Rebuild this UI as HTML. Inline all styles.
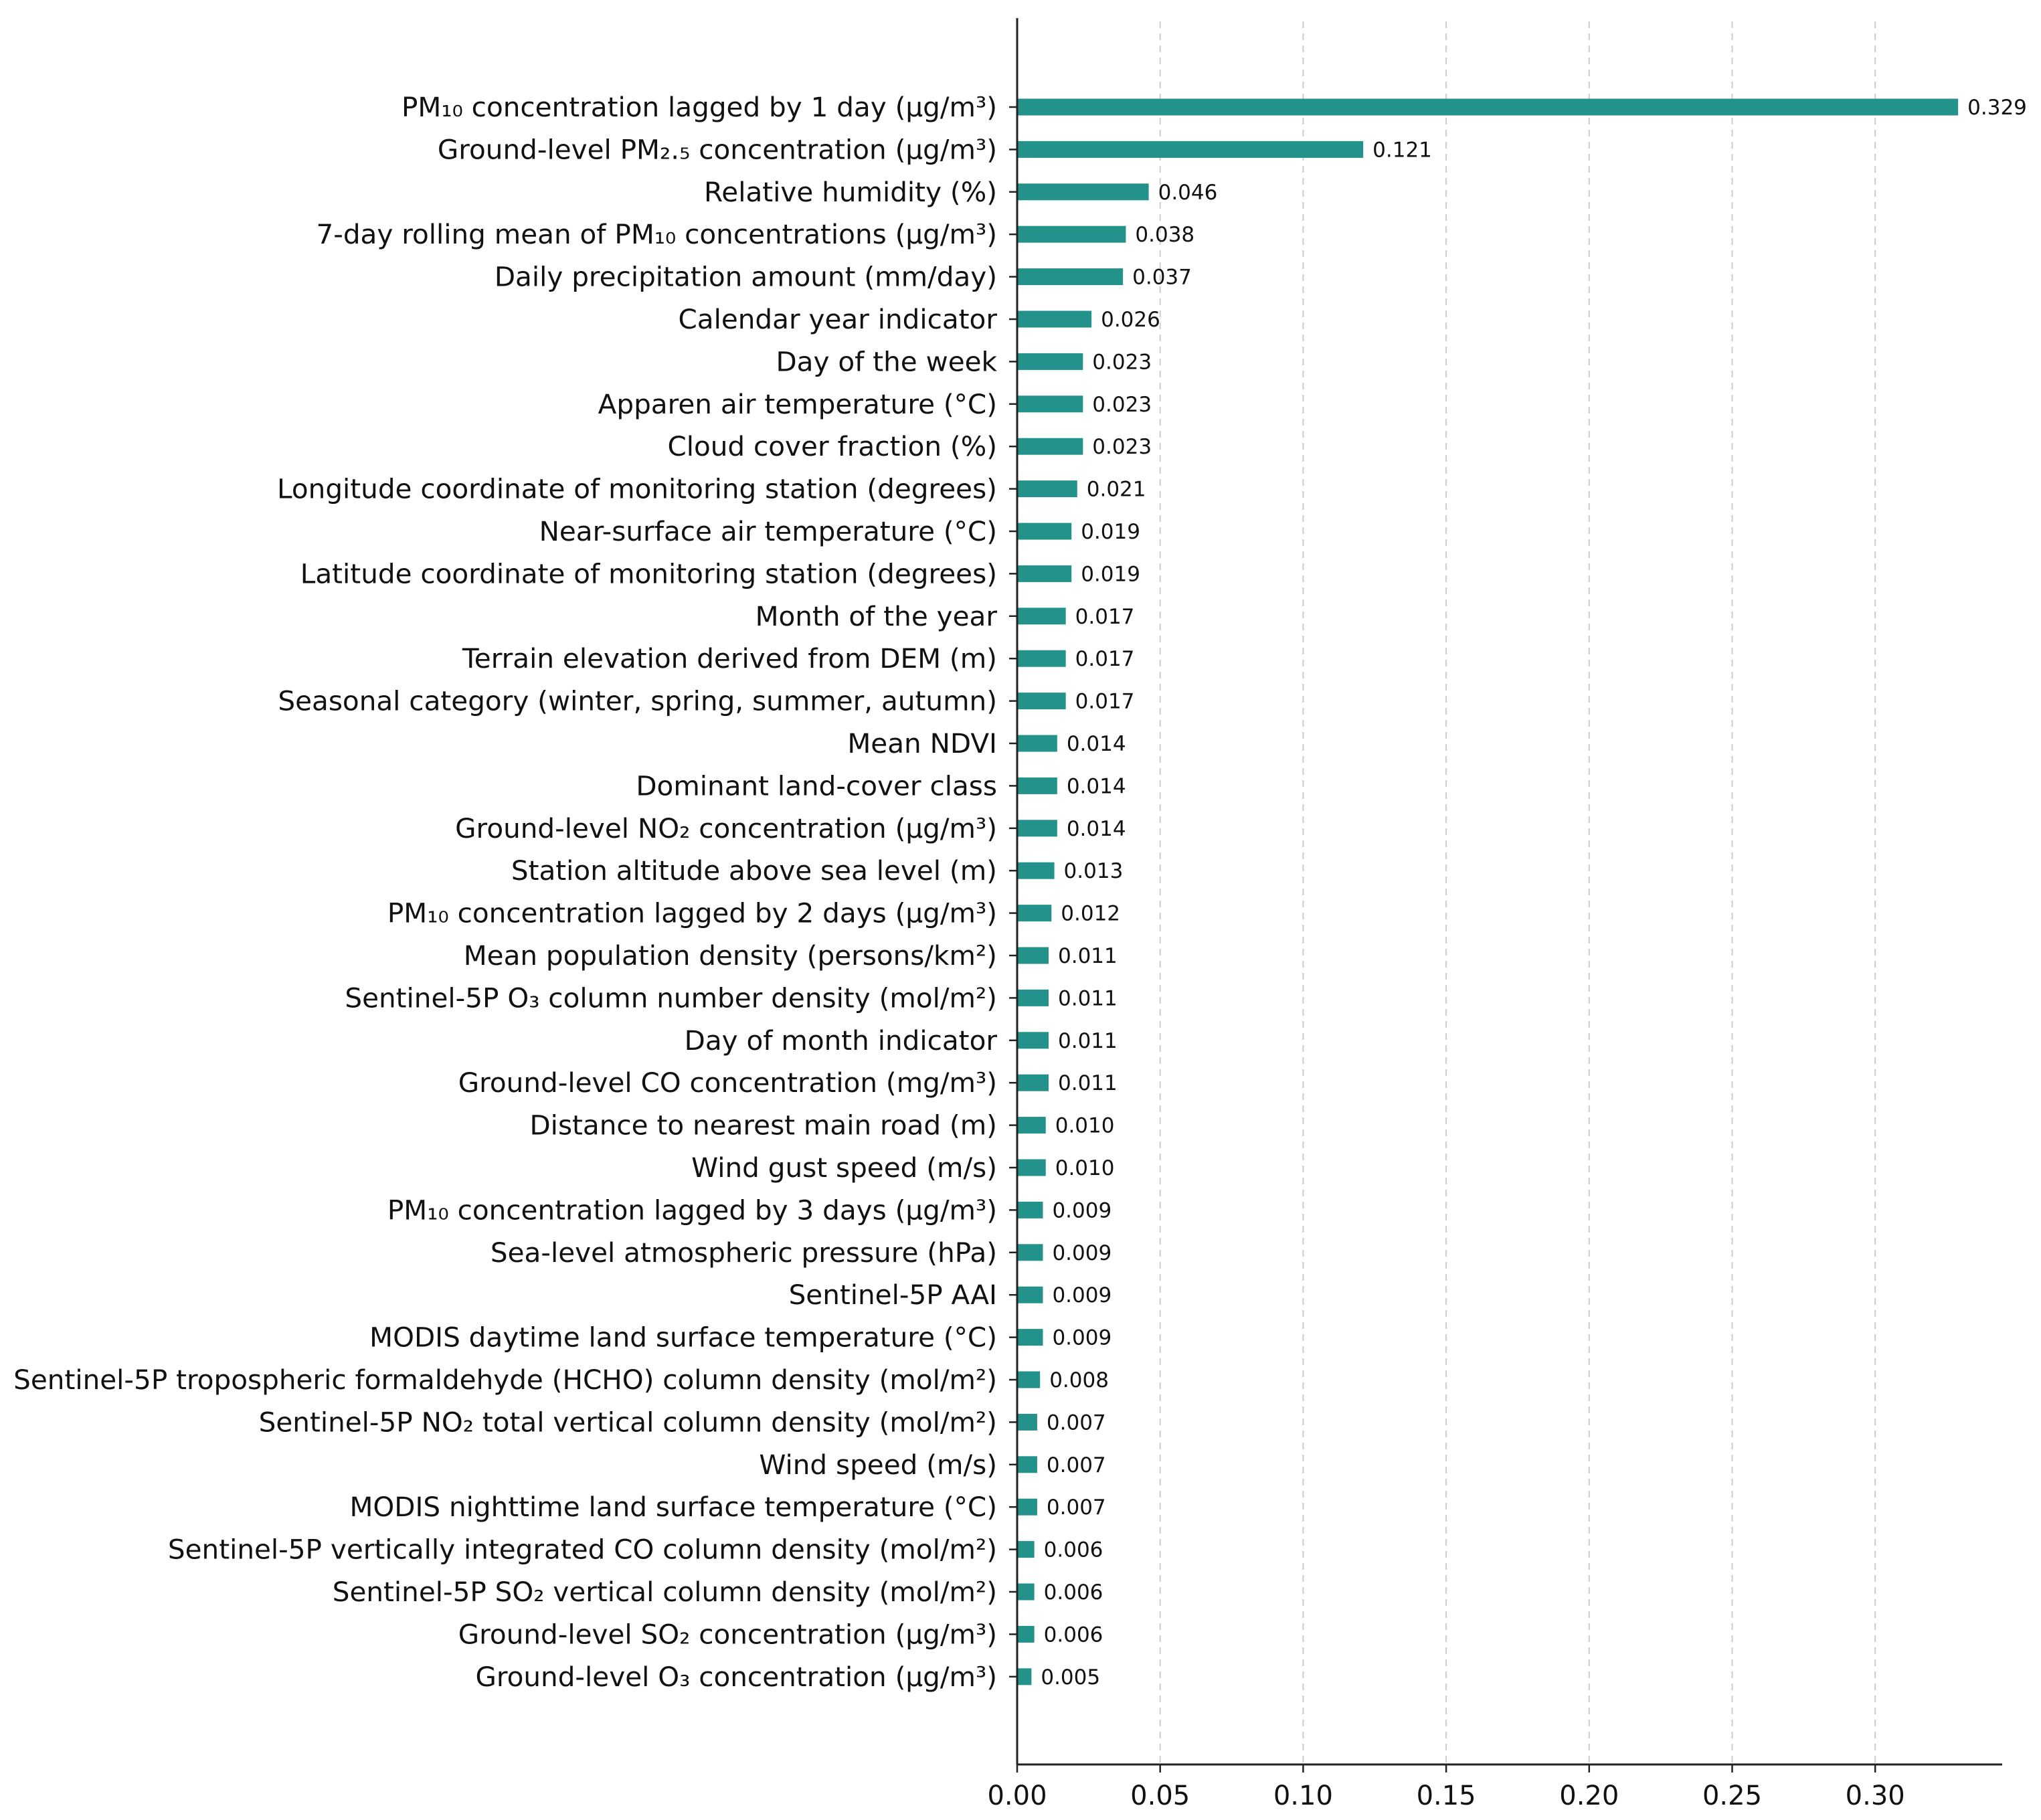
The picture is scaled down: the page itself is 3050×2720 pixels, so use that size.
<!DOCTYPE html>
<html><head><meta charset="utf-8"><style>
html,body{margin:0;padding:0;background:#fff;}
svg{display:block;font-family:"DejaVu Sans","Liberation Sans",sans-serif;}
</style></head><body>
<svg id="chart" width="3050" height="2720" viewBox="0 0 3050 2720" xmlns="http://www.w3.org/2000/svg"></svg>
<script>
const categories = [
"PM₁₀ concentration lagged by 1 day (μg/m³)",
"Ground-level PM₂.₅ concentration (μg/m³)",
"Relative humidity (%)",
"7-day rolling mean of PM₁₀ concentrations (μg/m³)",
"Daily precipitation amount (mm/day)",
"Calendar year indicator",
"Day of the week",
"Apparen air temperature (°C)",
"Cloud cover fraction (%)",
"Longitude coordinate of monitoring station (degrees)",
"Near-surface air temperature (°C)",
"Latitude coordinate of monitoring station (degrees)",
"Month of the year",
"Terrain elevation derived from DEM (m)",
"Seasonal category (winter, spring, summer, autumn)",
"Mean NDVI",
"Dominant land-cover class",
"Ground-level NO₂ concentration (μg/m³)",
"Station altitude above sea level (m)",
"PM₁₀ concentration lagged by 2 days (μg/m³)",
"Mean population density (persons/km²)",
"Sentinel-5P O₃ column number density (mol/m²)",
"Day of month indicator",
"Ground-level CO concentration (mg/m³)",
"Distance to nearest main road (m)",
"Wind gust speed (m/s)",
"PM₁₀ concentration lagged by 3 days (μg/m³)",
"Sea-level atmospheric pressure (hPa)",
"Sentinel-5P AAI",
"MODIS daytime land surface temperature (°C)",
"Sentinel-5P tropospheric formaldehyde (HCHO) column density (mol/m²)",
"Sentinel-5P NO₂ total vertical column density (mol/m²)",
"Wind speed (m/s)",
"MODIS nighttime land surface temperature (°C)",
"Sentinel-5P vertically integrated CO column density (mol/m²)",
"Sentinel-5P SO₂ vertical column density (mol/m²)",
"Ground-level SO₂ concentration (μg/m³)",
"Ground-level O₃ concentration (μg/m³)"
];
const values = [0.329,0.121,0.046,0.038,0.037,0.026,0.023,0.023,0.023,0.021,0.019,0.019,0.017,0.017,0.017,0.014,0.014,0.014,0.013,0.012,0.011,0.011,0.011,0.011,0.010,0.010,0.009,0.009,0.009,0.009,0.008,0.007,0.007,0.007,0.006,0.006,0.006,0.005];
const xTicks = [0,0.05,0.10,0.15,0.20,0.25,0.30];
const xTickLabels = ["0.00","0.05","0.10","0.15","0.20","0.25","0.30"];

const NS="http://www.w3.org/2000/svg";
const svg=document.getElementById('chart');
const X0=1520, PXU=4274, AXR=2992, AXB=2637, AXT=27, Y0=160, STEP=63.4, BH=25;
const xs=v=>X0+v*PXU;
const ys=i=>Y0+i*STEP;
function mk(t,a){const e=document.createElementNS(NS,t);for(const k in a)e.setAttribute(k,a[k]);svg.appendChild(e);return e;}

xTicks.forEach((t,i)=>{
  if(t>0){
    const g=mk('line',{x1:xs(t),x2:xs(t),y1:32,y2:AXB,stroke:'#cccccc','stroke-width':2,'stroke-dasharray':'10,8'});
    
    
  }
  const tk=mk('line',{x1:xs(t),x2:xs(t),y1:AXB,y2:AXB+12,stroke:'#222','stroke-width':2.5});
  
  
  const tl=mk('text',{x:xs(t),y:AXB+60,'font-size':40,'text-anchor':'middle',fill:'#111'});
  tl.textContent=xTickLabels[i];
  
  
});

categories.forEach((c,i)=>{
  const y=ys(i);
  const b=mk('rect',{x:X0,y:y-BH/2,width:values[i]*PXU,height:BH,fill:'#22928a'});
  
  
  const tk=mk('line',{x1:X0-12,x2:X0,y1:y,y2:y,stroke:'#222','stroke-width':2.5});
  
  
  const l=mk('text',{x:X0-30,y:y+14,'font-size':40.5,'text-anchor':'end',fill:'#111'});
  l.textContent=c;
  
  
  const v=mk('text',{x:xs(values[i])+14,y:y+11,'font-size':31,fill:'#111'});
  v.textContent=values[i].toFixed(3);
  
  
});

const ya=mk('line',{x1:X0,x2:X0,y1:AXT,y2:AXB,stroke:'#222','stroke-width':3});


const xa=mk('line',{x1:X0,x2:AXR,y1:AXB,y2:AXB,stroke:'#222','stroke-width':3});


</script>
</body></html>
